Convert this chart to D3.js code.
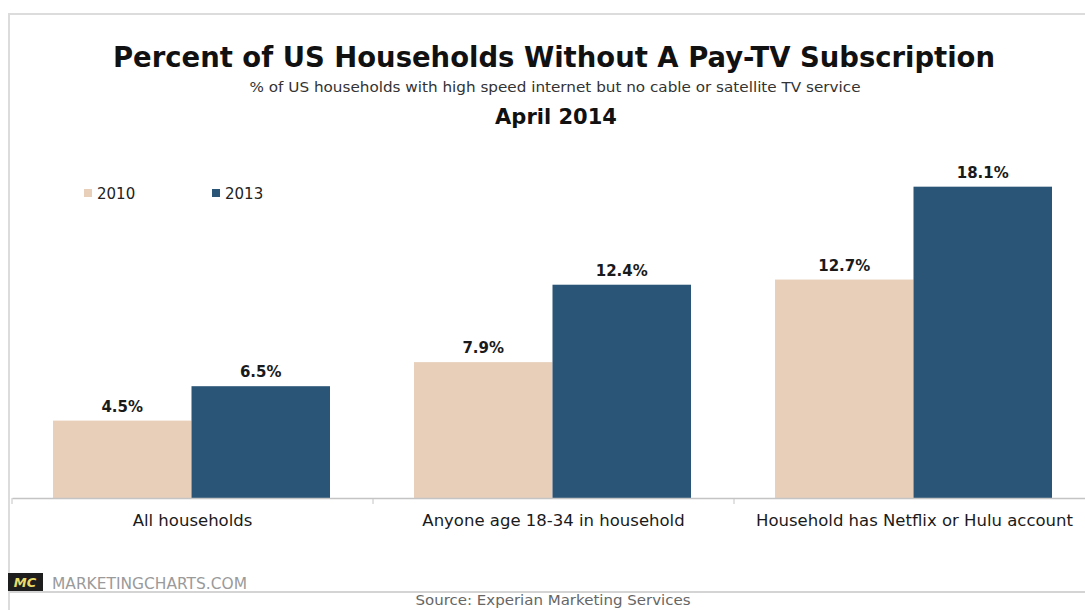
<!DOCTYPE html>
<html>
<head>
<meta charset="utf-8">
<script src="https://cdn.jsdelivr.net/npm/d3@7/dist/d3.min.js"></script>
<style>
  body { margin: 0; background: #fff; }
  svg { display: block; font-family: "DejaVu Sans", Verdana, sans-serif; }
</style>
</head>
<body>
<div id="chart"></div>
<script>
var categories = ["All households", "Anyone age 18-34 in household", "Household has Netflix or Hulu account"];
var seriesNames = ["2010", "2013"];
var values2010 = [4.5, 7.9, 12.7];
var values2013 = [6.5, 12.4, 18.1];
var colors = ["#e8cfba", "#2b5576"];

var width = 1085;
var height = 610;

var svg = d3.select("#chart")
  .append("svg")
  .attr("width", width)
  .attr("height", height);

// frame
svg.append("path")
  .attr("d", "M9,610 V14 H1085")
  .attr("fill", "none")
  .attr("stroke", "#dcdcdc")
  .attr("stroke-width", 2);

// stretch / squeeze a text to a width
function fit(sel, w) {
  sel.attr("textLength", w).attr("lengthAdjust", "spacingAndGlyphs");
}

var title = svg.append("text")
  .attr("x", 554).attr("y", 67)
  .attr("text-anchor", "middle")
  .style("font-size", "28px").style("font-weight", "bold").style("fill", "#111")
  .text("Percent of US Households Without A Pay-TV Subscription");
fit(title, 882);

var sub = svg.append("text")
  .attr("x", 555).attr("y", 92)
  .attr("text-anchor", "middle")
  .style("font-size", "14px").style("fill", "#333")
  .text("% of US households with high speed internet but no cable or satellite TV service");
fit(sub, 611);

svg.append("text")
  .attr("x", 556).attr("y", 124)
  .attr("text-anchor", "middle")
  .style("font-size", "21px").style("font-weight", "bold").style("fill", "#111")
  .text("April 2014");

// scales
var x0 = d3.scaleBand()
  .domain(categories)
  .range([12, 12 + 3 * 361]);

var x1 = d3.scaleBand()
  .domain(seriesNames)
  .range([41, 41 + 277]);

var y = d3.scaleLinear()
  .domain([0, 20])
  .range([498, 498 - 20 * 17.2]);

var rows = categories.map(function (c, i) {
  return { cat: c, vals: [values2010[i], values2013[i]] };
});

var groups = svg.selectAll("g.group")
  .data(rows)
  .enter()
  .append("g")
  .attr("class", "group")
  .attr("transform", d => "translate(" + x0(d.cat) + ",0)");

groups.selectAll("rect")
  .data(d => d.vals.map((v, j) => ({ name: seriesNames[j], value: v, i: j })))
  .enter()
  .append("rect")
  .attr("x", d => x1(d.name))
  .attr("y", d => y(d.value))
  .attr("width", x1.bandwidth())
  .attr("height", d => y(0) - y(d.value))
  .attr("fill", d => colors[d.i]);

groups.selectAll("text.val")
  .data(d => d.vals.map((v, j) => ({ name: seriesNames[j], value: v })))
  .enter()
  .append("text")
  .attr("class", "val")
  .attr("x", d => x1(d.name) + x1.bandwidth() / 2)
  .attr("y", d => y(d.value) - 9)
  .attr("text-anchor", "middle")
  .style("font-size", "15px").style("font-weight", "bold").style("fill", "#1a1a1a")
  .text(d => d.value.toFixed(1) + "%");

// x axis
var xAxis = d3.axisBottom(x0).tickSize(0).tickPadding(16);
var gx = svg.append("g")
  .attr("transform", "translate(0," + y(0) + ")")
  .call(xAxis);
gx.select(".domain").attr("stroke", "#c4c4c4").attr("stroke-width", 1.5);
gx.selectAll(".tick text")
  .style("font-size", "16.5px").style("fill", "#1a1a1a")
  .style("font-family", "\"DejaVu Sans\", Verdana, sans-serif");

gx.selectAll("line.sep")
  .data(categories)
  .enter()
  .append("line")
  .attr("class", "sep")
  .attr("x1", d => x0(d)).attr("x2", d => x0(d))
  .attr("y1", 0).attr("y2", 6)
  .attr("stroke", "#c4c4c4");

// legend
var legend = svg.selectAll("g.legend")
  .data(seriesNames)
  .enter()
  .append("g")
  .attr("class", "legend")
  .attr("transform", (d, i) => "translate(" + (84 + i * 128) + ",189)");
legend.append("rect")
  .attr("width", 8).attr("height", 8)
  .attr("fill", (d, i) => colors[i]);
legend.append("text")
  .attr("x", 13).attr("y", 10)
  .style("font-size", "15px").style("fill", "#222")
  .text(d => d);

// footer
svg.append("line")
  .attr("x1", 9).attr("x2", 1085)
  .attr("y1", 592).attr("y2", 592)
  .attr("stroke", "#d4d4d4").attr("stroke-width", 2);

svg.append("rect")
  .attr("x", 8).attr("y", 573)
  .attr("width", 35).attr("height", 18)
  .attr("fill", "#1e1e1e");
svg.append("text")
  .attr("x", 25).attr("y", 587)
  .attr("text-anchor", "middle")
  .style("font-size", "13px").style("font-weight", "bold").style("font-style", "italic")
  .style("fill", "#e8dc6a")
  .text("MC");

var mc = svg.append("text")
  .attr("x", 52).attr("y", 589)
  .style("font-size", "16px").style("fill", "#9a9a9a")
  .text("MARKETINGCHARTS.COM");
fit(mc, 195);

var src = svg.append("text")
  .attr("x", 553).attr("y", 605)
  .attr("text-anchor", "middle")
  .style("font-size", "13.5px").style("fill", "#666")
  .text("Source: Experian Marketing Services");
fit(src, 275);
</script>
</body>
</html>
